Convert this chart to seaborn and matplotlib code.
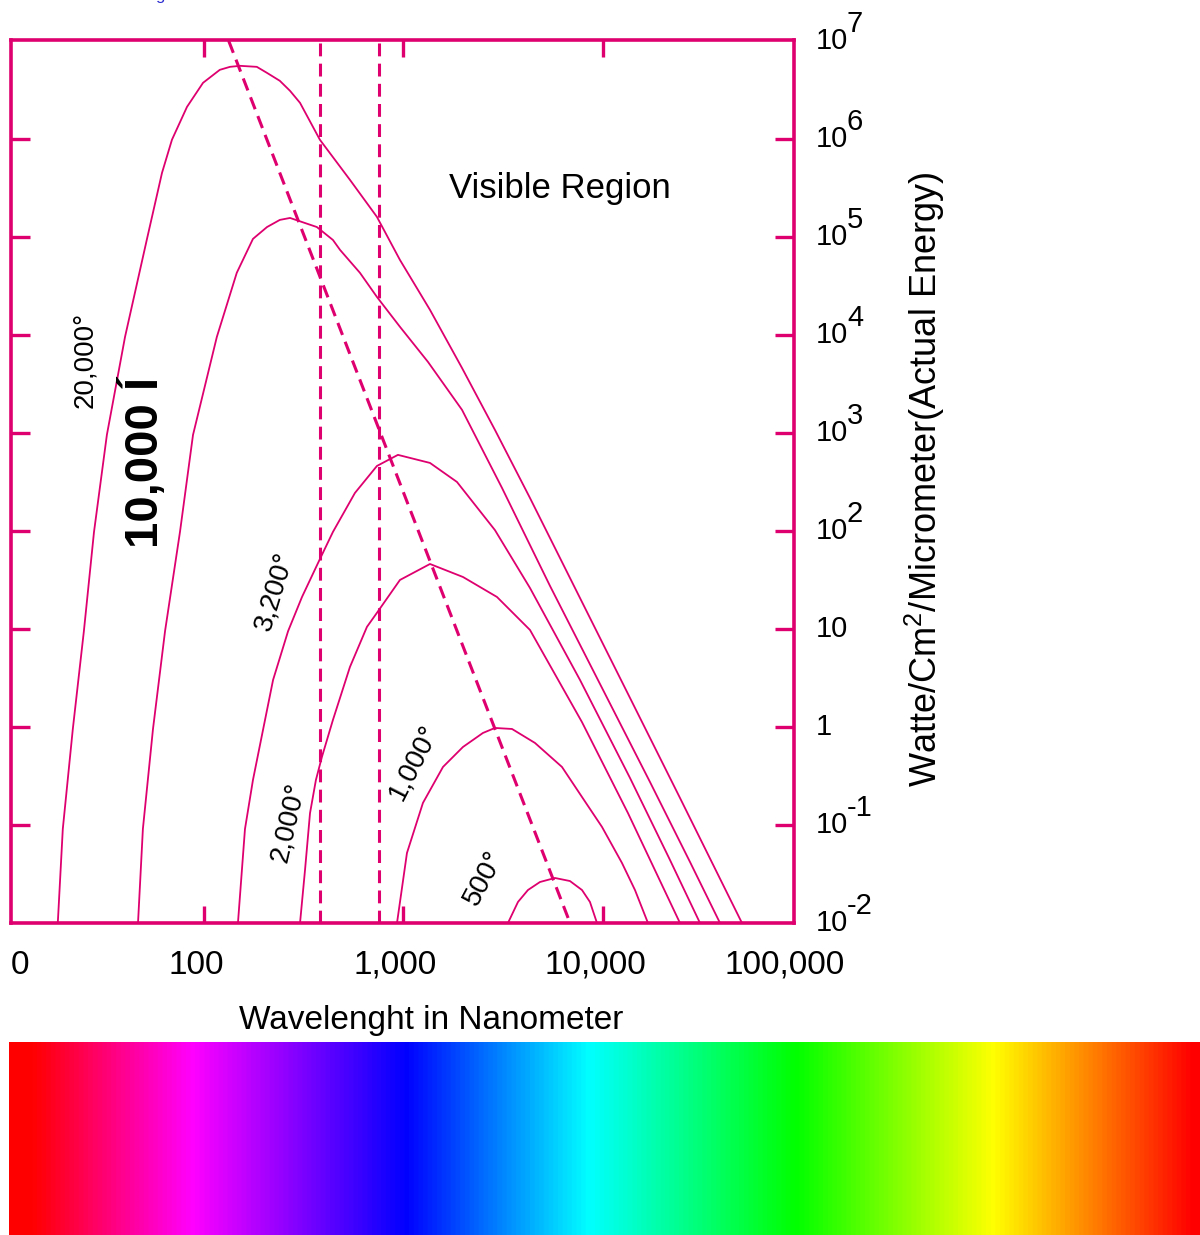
import numpy as np
import pandas as pd
import matplotlib
matplotlib.use("Agg")
import matplotlib.pyplot as plt
from matplotlib.colors import LinearSegmentedColormap
from matplotlib.ticker import NullLocator
import seaborn as sns

# Black-body radiation curves: wavelength (nm) vs. power (W/cm^2/µm)
t20000_nm = [18.5, 19.6, 22.0, 25.0, 28.1, 32.6, 40.2, 51.8, 61.6, 69.1, 82.2, 98.9,
             120, 135, 151.5, 184, 207, 240, 270, 303, 381, 539, 736, 960, 1358, 1965,
             2874, 4306, 7670, 13660, 24320, 49750]
t20000_val = [0.01, 0.091, 0.95, 9.5, 97.7, 954, 9540, 95400, 4.5e5, 9.8e5, 2.12e6, 3.73e6,
              5.06e6, 5.43e6, 5.56e6, 5.43e6, 4.71e6, 3.91e6, 3.09e6, 2.33e6, 9.8e5, 3.82e5,
              1.6e5, 5.82e4, 1.8e4, 4600, 1074, 217, 20.7, 1.98, 0.189, 0.01]

t10000_nm = [46.7, 49.4, 55.5, 63.8, 75.8, 88.1, 116, 146, 176, 207, 240, 270, 368, 443,
             481, 605, 736, 960, 1327, 1965, 3117, 5425, 9660, 17200, 27300, 38600]
t10000_val = [0.01, 0.091, 0.95, 9.5, 97.7, 954, 9540, 4.3e4, 9.54e4, 1.26e5, 1.49e5, 1.56e5,
              1.26e5, 9.3e4, 7.36e4, 4.3e4, 2.44e4, 1.21e4, 5300, 1720, 275, 27.5, 2.75,
              0.275, 0.042, 0.01]

t3200_nm = [148, 160.5, 176, 198, 222, 264, 310, 373, 443, 571, 736, 938, 1358, 1854,
            2874, 4306, 7670, 13660, 21670, 30640]
t3200_val = [0.01, 0.091, 0.288, 0.95, 3.02, 9.5, 21.2, 47.1, 97.7, 244, 460, 597, 494, 316,
             102, 26.2, 3.02, 0.302, 0.044, 0.01]

t2000_nm = [303, 321, 340, 364, 390, 443, 539, 656, 736, 960, 1358, 1987, 2942, 4306,
            7850, 13350, 24320]
t2000_val = [0.01, 0.0348, 0.132, 0.288, 0.494, 1.18, 4.09, 10.5, 14.6, 31.6, 46.0, 33.9,
             21.2, 9.77, 1.12, 0.132, 0.01]

t1000_nm = [928, 1041, 1252, 1578, 1987, 2503, 2874, 3500, 4562, 6230, 7850, 9890,
            12450, 14470, 16810]
t1000_val = [0.01, 0.0518, 0.168, 0.391, 0.625, 0.869, 0.977, 0.954, 0.687, 0.391, 0.193,
             0.0955, 0.041, 0.0217, 0.01]

t500_nm = [3340, 3750, 4207, 4833, 5745, 6832, 7850, 8605, 9333]
t500_val = [0.01, 0.0164, 0.0217, 0.0262, 0.0288, 0.0268, 0.0217, 0.0164, 0.01]

curve_names = ["20,000°", "10,000 Í", "3,200°", "2,000°", "1,000°", "500°"]

# Wien displacement locus and the visible band limits
wien_nm = [133, 6840]
wien_val = [1e7, 1e-2]
visible_nm = [380, 750]

x_range = [10.78, 90700]
y_range = [0.01, 1.02e7]
x_tick_values = [10.78, 100, 1000, 10000, 100000]
x_tick_labels = ["0", "100", "1,000", "10,000", "100,000"]
y_tick_values = [1e-2, 1e-1, 1, 10, 1e2, 1e3, 1e4, 1e5, 1e6, 1e7]
y_tick_bases = ["10", "10", "1", "10", "10", "10", "10", "10", "10", "10"]
y_tick_powers = ["-2", "-1", "", "", "2", "3", "4", "5", "6", "7"]

spectrum_colors = ["#ff0000", "#ff0000", "#ff00ff", "#0000ff", "#00ffff",
                   "#00ff00", "#ffff00", "#ff0000", "#ff0000"]
spectrum_stops = [0.0, 0.018, 0.153, 0.333, 0.487, 0.661, 0.828, 0.995, 1.0]

PINK = "#de006e"

sns.set_theme(style="white")
plt.rcParams["font.family"] = ["Liberation Sans", "DejaVu Sans"]
plt.rcParams["text.color"] = "black"
plt.rcParams["mathtext.fontset"] = "custom"
plt.rcParams["mathtext.rm"] = "Liberation Sans"
plt.rcParams["mathtext.it"] = "Liberation Sans:italic"
plt.rcParams["mathtext.bf"] = "Liberation Sans:bold"

frames = []
for name, nm, val in zip(curve_names,
                         [t20000_nm, t10000_nm, t3200_nm, t2000_nm, t1000_nm, t500_nm],
                         [t20000_val, t10000_val, t3200_val, t2000_val, t1000_val, t500_val]):
    frames.append(pd.DataFrame({"nm": nm, "val": val, "curve": name}))
df = pd.concat(frames, ignore_index=True)

fig = plt.figure(figsize=(12, 12.35), dpi=100)
W, H = 1200, 1235
ax = fig.add_axes([11 / W, 1 - 923 / H, 783 / W, 883 / H])

sns.lineplot(data=df, x="nm", y="val", hue="curve", units="curve", estimator=None,
             sort=False, palette={n: PINK for n in curve_names}, legend=False,
             linewidth=1.3, ax=ax)

ax.set_xscale("log")
ax.set_yscale("log")
ax.set_xlim(*x_range)
ax.set_ylim(*y_range)

dash = (0, (4.2, 2.4))
sns.lineplot(x=wien_nm, y=wien_val, color=PINK, linewidth=2.2, ax=ax)
ax.lines[-1].set_linestyle(dash)
for v in visible_nm:
    ax.axvline(v, color=PINK, linewidth=2.2, linestyle=dash)

ax.set_xlabel("")
ax.set_ylabel("")
ax.set_xticks([100, 1000, 10000])
ax.set_yticks(y_tick_values[1:-1])
ax.xaxis.set_minor_locator(NullLocator())
ax.yaxis.set_minor_locator(NullLocator())
ax.tick_params(axis="x", which="major", direction="in", length=12, width=2.4,
               color=PINK, top=True, bottom=True, labelbottom=False, labeltop=False)
ax.tick_params(axis="y", which="major", direction="in", length=14, width=2.4,
               color=PINK, left=True, right=True, labelleft=False, labelright=False)
for sp in ax.spines.values():
    sp.set_color(PINK)
    sp.set_linewidth(2.6)
ax.set_facecolor("white")

px = 72 / 100  # points per pixel

# x tick labels
for xv, lab in zip(x_tick_values, x_tick_labels):
    if lab == "0":
        ha, dx = "left", 0
    elif lab == "100,000":
        ha, dx = "center", -18
    else:
        ha, dx = "center", -8
    ax.annotate(lab, xy=(xv, 0), xycoords=("data", "axes fraction"),
                xytext=(dx * px, -27 * px), textcoords="offset points",
                ha=ha, va="top", fontsize=24, color="black", annotation_clip=False)

# y tick labels on the right, exponent raised at full size
for yv, base, pw in zip(y_tick_values, y_tick_bases, y_tick_powers):
    ax.annotate(base, xy=(1, yv), xycoords=("axes fraction", "data"),
                xytext=(22 * px, 0), textcoords="offset points",
                ha="left", va="center", fontsize=21, color="black", annotation_clip=False)
    if pw:
        ax.annotate(pw, xy=(1, yv), xycoords=("axes fraction", "data"),
                    xytext=(53 * px, 17 * px), textcoords="offset points",
                    ha="left", va="center", fontsize=21, color="black",
                    annotation_clip=False)

ax.text(0.536, -0.11, "Wavelenght in Nanometer", transform=ax.transAxes,
        ha="center", va="center", fontsize=24, color="black")
ax.text(1.167, 0.502, "Watte/Cm$^{2}$/Micrometer(Actual Energy)", transform=ax.transAxes,
        ha="center", va="center", rotation=90, fontsize=26, color="black")

ax.text(0.701, 0.832, "Visible Region", transform=ax.transAxes,
        ha="center", va="center", fontsize=25, color="black")

# curve labels
label_specs = [
    ("20,000°", 0.0945, 0.638, 90, 20, "normal"),
    ("10,000 Í", 0.170, 0.522, 90, 34, "bold"),
    ("3,200°", 0.337, 0.375, 73, 20, "normal"),
    ("2,000°", 0.354, 0.114, 77, 20, "normal"),
    ("1,000°", 0.515, 0.182, 63, 20, "normal"),
    ("500°", 0.604, 0.051, 62, 20, "normal"),
]
for txt, fx, fy, rot, fs, fw in label_specs:
    ax.text(fx, fy, txt, transform=ax.transAxes, ha="center", va="center",
            rotation=rot, rotation_mode="anchor", fontsize=fs, fontweight=fw,
            color="black")

# tail of a link caption cut by the top edge
fig.text(155 / W, 1.0, "g", ha="left", va="baseline", fontsize=12, color="#2a2ad0")

# colour spectrum strip
spec_ax = fig.add_axes([9 / W, 0, 1191 / W, 193 / H])
cmap = LinearSegmentedColormap.from_list("spectrum", list(zip(spectrum_stops, spectrum_colors)))
spec_ax.imshow(np.linspace(0, 1, 1024)[None, :], aspect="auto", cmap=cmap,
               extent=[0, 1, 0, 1], interpolation="bilinear")
spec_ax.set_axis_off()

fig.savefig("out.png", dpi=100, facecolor="white")
